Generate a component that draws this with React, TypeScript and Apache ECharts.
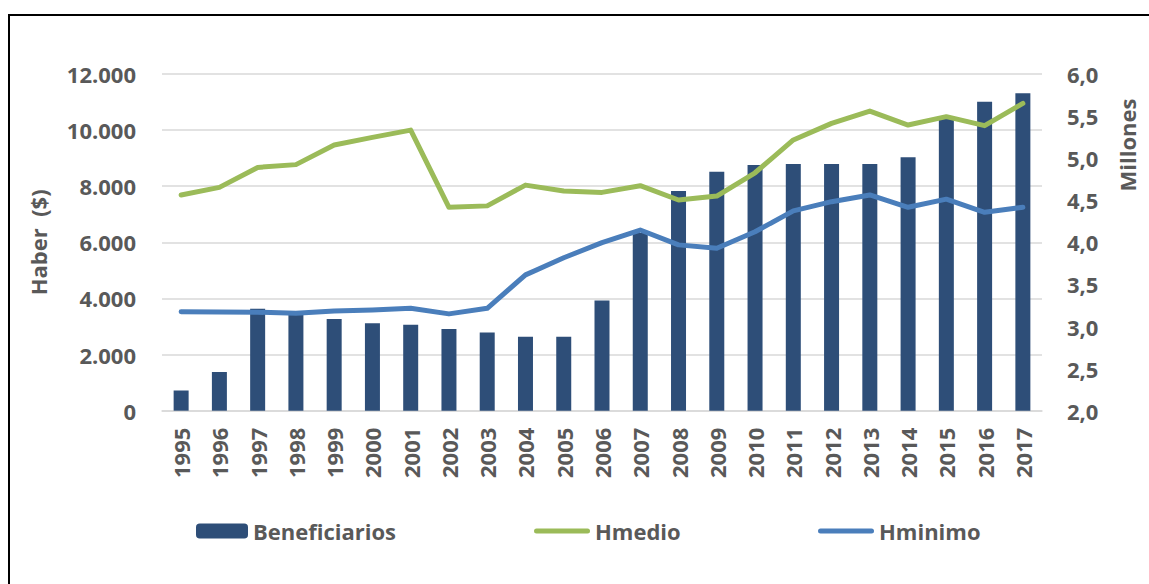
import React, { useEffect, useRef } from "react";
import * as echarts from "echarts";

const years = ["1995","1996","1997","1998","1999","2000","2001","2002","2003","2004","2005","2006","2007","2008","2009","2010","2011","2012","2013","2014","2015","2016","2017"];
const beneficiarios = [2.24, 2.46, 3.21, 3.17, 3.09, 3.04, 3.02, 2.97, 2.93, 2.88, 2.88, 3.31, 4.11, 4.61, 4.84, 4.92, 4.93, 4.93, 4.93, 5.01, 5.48, 5.67, 5.77];
const hmedio = [7690, 7960, 8670, 8770, 9470, 9740, 10000, 7250, 7300, 8040, 7830, 7780, 8020, 7510, 7650, 8480, 9650, 10240, 10680, 10180, 10480, 10160, 10950];
const hminimo = [3530, 3520, 3510, 3470, 3550, 3590, 3650, 3450, 3650, 4840, 5450, 5990, 6440, 5910, 5790, 6380, 7120, 7450, 7690, 7250, 7540, 7070, 7250];

const FONT = "'Open Sans', sans-serif";
const TXT = "#595959";
const txt = { fontFamily: FONT, fontWeight: "bold" as const, color: TXT, fontSize: 22 };
const LINE_ICON = "path://M2.5,0 H53.5 A2.5,2.5 0 0 1 53.5,5 H2.5 A2.5,2.5 0 0 1 2.5,0 Z";

export default function App() {
  const ref = useRef<HTMLDivElement>(null);
  useEffect(() => {
    if (!ref.current) return;
    const chart = echarts.init(ref.current, null, { renderer: "svg" });
    chart.setOption({
      animation: false,
      backgroundColor: "#ffffff",
      grid: { left: 152, right: 107, top: 58, bottom: 173.3, containLabel: false },
      legend: [
        { data: ["Beneficiarios"], left: 181, top: 499, itemWidth: 52, itemHeight: 15, textStyle: { ...txt } },
        { data: [{ name: "Hmedio", icon: LINE_ICON }], left: 519, top: 499, itemWidth: 56, itemHeight: 5, textStyle: { ...txt } },
        { data: [{ name: "Hminimo", icon: LINE_ICON }], left: 803, top: 499, itemWidth: 56, itemHeight: 5, textStyle: { ...txt } },
      ],
      xAxis: {
        type: "category",
        data: years,
        axisLine: { lineStyle: { color: "#D9D9D9", width: 1.5 } },
        axisTick: { show: false },
        axisLabel: { ...txt, rotate: 90, margin: 17, interval: 0 },
      },
      yAxis: [
        {
          type: "value",
          min: 0,
          max: 12000,
          interval: 2000,
          name: "Haber  ($)",
          nameLocation: "middle",
          nameGap: 113,
          nameTextStyle: { ...txt },
          axisLine: { show: false },
          axisTick: { show: false },
          axisLabel: {
            ...txt,
            margin: 26,
            formatter: (v: number) => v.toLocaleString("de-DE"),
          },
          splitLine: { lineStyle: { color: "#D9D9D9", width: 1.5 } },
        },
        {
          type: "value",
          min: 2,
          max: 6,
          interval: 0.5,
          axisLine: { show: false },
          axisTick: { show: false },
          axisLabel: {
            ...txt,
            margin: 25,
            formatter: (v: number) => v.toFixed(1).replace(".", ","),
          },
          splitLine: { show: false },
        },
      ],
      graphic: [
        {
          type: "text",
          x: 1117,
          y: 129,
          rotation: Math.PI / 2,
          style: { text: "Millones", font: `bold 22px ${FONT}`, fill: TXT, align: "center", verticalAlign: "middle" },
        },
      ],
      series: [
        {
          name: "Beneficiarios",
          type: "bar",
          yAxisIndex: 1,
          data: beneficiarios,
          barWidth: 15,
          itemStyle: { color: "#2E4E78" },
        },
        {
          name: "Hmedio",
          type: "line",
          yAxisIndex: 0,
          data: hmedio,
          symbol: "none",
          lineStyle: { color: "#9BBB59", width: 5, cap: "round", join: "round" },
          itemStyle: { color: "#9BBB59" },
        },
        {
          name: "Hminimo",
          type: "line",
          yAxisIndex: 0,
          data: hminimo,
          symbol: "none",
          lineStyle: { color: "#4A7EBB", width: 5, cap: "round", join: "round" },
          itemStyle: { color: "#4A7EBB" },
        },
      ],
    });
    return () => chart.dispose();
  }, []);
  return (
    <div
      style={{
        position: "fixed",
        left: 8,
        top: 14,
        width: 1141,
        height: 570,
        borderLeft: "2px solid #000",
        borderTop: "2px solid #000",
        background: "#fff",
      }}
    >
      <div ref={ref} style={{ width: 1139, height: 568 }} />
    </div>
  );
}
